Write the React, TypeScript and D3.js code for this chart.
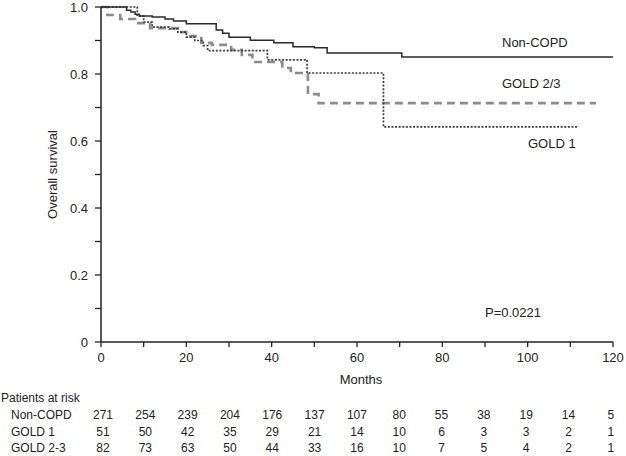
import React from "react";
import * as d3 from "d3";

const nonCopdTimes = [0, 6, 7, 8, 9, 12, 15, 17, 20, 27, 28.5, 30, 35, 40.5, 45, 50, 53, 70.5];
const nonCopdSurv = [1, 0.99, 0.985, 0.978, 0.973, 0.97, 0.964, 0.958, 0.95, 0.931, 0.922, 0.91, 0.901, 0.893, 0.881, 0.878, 0.863, 0.851];
const nonCopdEnd = 120;

const gold1Times = [0, 8.5, 10, 12, 16, 18, 20, 22, 24, 25, 39, 48.3, 66.2];
const gold1Surv = [1, 0.973, 0.955, 0.94, 0.935, 0.925, 0.91, 0.9, 0.885, 0.87, 0.842, 0.803, 0.642];
const gold1End = 112;

const gold23Times = [0, 1.5, 4.5, 8, 11.5, 18, 20, 23.5, 26, 30.5, 33, 35.5, 42.5, 44.5, 48.5, 51];
const gold23Surv = [1, 0.976, 0.964, 0.952, 0.937, 0.925, 0.913, 0.893, 0.887, 0.872, 0.857, 0.836, 0.818, 0.803, 0.74, 0.713];
const gold23End = 116;

const xTicks = [0, 20, 40, 60, 80, 100, 120];
const xMinor = [10, 30, 50, 70, 90, 110];
const yTicks = [0, 0.2, 0.4, 0.6, 0.8, 1.0];
const yMinor = [0.1, 0.3, 0.5, 0.7, 0.9];
const yTickLabels = ["0", "0.2", "0.4", "0.6", "0.8", "1.0"];

const riskMonths = [0, 10, 20, 30, 40, 50, 60, 70, 80, 90, 100, 110, 120];
const riskNames = ["Non-COPD", "GOLD 1", "GOLD 2-3"];
const riskNonCopd = [271, 254, 239, 204, 176, 137, 107, 80, 55, 38, 19, 14, 5];
const riskGold1 = [51, 50, 42, 35, 29, 21, 14, 10, 6, 3, 3, 2, 1];
const riskGold23 = [82, 73, 63, 50, 44, 33, 16, 10, 7, 5, 4, 2, 1];

const FONT = "Liberation Sans, Arial, Helvetica, sans-serif";

export default function App() {
  const W = 626, H = 456;
  const x = d3.scaleLinear().domain([0, 120]).range([101, 613]);
  const y = d3.scaleLinear().domain([0, 1]).range([342, 7]);

  const stepPath = (times: number[], surv: number[], end: number) => {
    const pts: [number, number][] = times.map((t, i) => [t, surv[i]]);
    pts.push([end, surv[surv.length - 1]]);
    const line = d3.line<[number, number]>().x(d => x(d[0])).y(d => y(d[1])).curve(d3.curveStepAfter);
    return line(pts) || "";
  };

  const riskRows = [riskNonCopd, riskGold1, riskGold23];
  const rowY = [419, 436, 452];

  return (
    <svg width={W} height={H} style={{ position: "absolute", left: 0, top: 0, background: "#fff" }} fontFamily={FONT}>
      <rect x={0} y={0} width={W} height={H} fill="#fff" />
      {/* curves */}
      <path d={stepPath(gold23Times, gold23Surv, gold23End)} fill="none" stroke="#8c8c8c" strokeWidth={2.6} strokeDasharray="8,5" />
      <path d={stepPath(gold1Times, gold1Surv, gold1End)} fill="none" stroke="#3a3a3a" strokeWidth={1.7} strokeDasharray="2,1.6" />
      <path d={stepPath(nonCopdTimes, nonCopdSurv, nonCopdEnd)} fill="none" stroke="#2a2a2a" strokeWidth={1.5} />

      {/* axes */}
      <line x1={x(0)} x2={x(120)} y1={y(0)} y2={y(0)} stroke="#222" strokeWidth={1.5} />
      <line x1={x(0)} x2={x(0)} y1={y(0)} y2={y(1)} stroke="#222" strokeWidth={1.5} />
      {xTicks.concat(xMinor).map(t => (
        <line key={"xt" + t} x1={x(t)} x2={x(t)} y1={y(0)} y2={y(0) + 5} stroke="#222" strokeWidth={1.3} />
      ))}
      {yTicks.concat(yMinor).map(t => (
        <line key={"yt" + t} x1={x(0) - 6} x2={x(0)} y1={y(t)} y2={y(t)} stroke="#222" strokeWidth={1.3} />
      ))}
      {xTicks.map(t => (
        <text key={"xl" + t} x={x(t)} y={362} fontSize={13} textAnchor="middle" fill="#222">{t}</text>
      ))}
      {yTicks.map((t, i) => (
        <text key={"yl" + t} x={88} y={y(t) + 4.5} fontSize={13} textAnchor="end" fill="#222">{yTickLabels[i]}</text>
      ))}
      <text x={361} y={384} fontSize={13} textAnchor="middle" fill="#222">Months</text>
      <text transform={`translate(57,${(y(0) + y(1)) / 2}) rotate(-90)`} fontSize={13} textAnchor="middle" fill="#222">Overall survival</text>

      {/* labels */}
      <text x={502} y={46.5} fontSize={13} fill="#222">Non-COPD</text>
      <text x={502} y={87.5} fontSize={13} fill="#222">GOLD 2/3</text>
      <text x={528} y={147.5} fontSize={13} fill="#222">GOLD 1</text>
      <text x={485} y={316.5} fontSize={13} fill="#222">P=0.0221</text>

      {/* risk table */}
      <text x={1} y={402} fontSize={12} fill="#222">Patients at risk</text>
      {riskNames.map((n, i) => (
        <text key={"rn" + n} x={11} y={rowY[i]} fontSize={12} fill="#222">{n}</text>
      ))}
      {riskRows.map((row, i) =>
        row.map((v, j) => (
          <text key={"rv" + i + "-" + j} x={x(riskMonths[j]) + 2 - j * 0.35} y={rowY[i]} fontSize={12} textAnchor="middle" fill="#222">{v}</text>
        ))
      )}
    </svg>
  );
}
